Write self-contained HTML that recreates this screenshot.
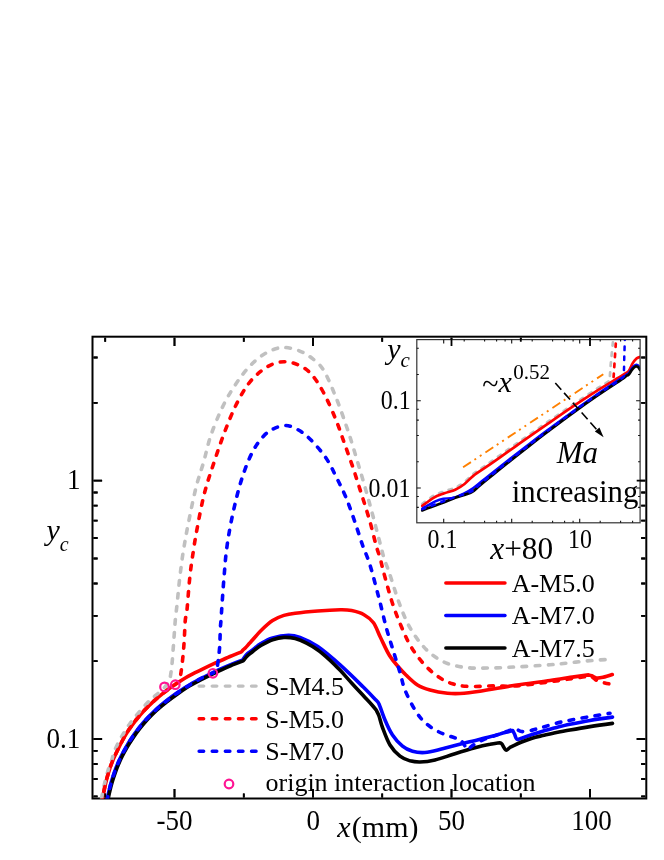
<!DOCTYPE html>
<html><head><meta charset="utf-8"><title>chart</title>
<style>html,body{margin:0;padding:0;background:#fff;}svg{will-change:transform;opacity:0.999;}body{width:664px;height:860px;overflow:hidden;font-family:"Liberation Serif",serif;}svg{display:block;}</style>
</head><body>
<svg width="664" height="860" viewBox="0 0 664 860" font-family="'Liberation Serif', serif" fill="#000">
<defs><clipPath id="cm"><rect x="92.5" y="336.7" width="553.8" height="461.8"/></clipPath><clipPath id="ci"><rect x="416.8" y="339.6" width="223.3" height="183.2"/></clipPath></defs>
<rect x="92.5" y="336.7" width="553.8" height="461.8" fill="none" stroke="#000" stroke-width="2"/>
<path d="M105.2 337.7v4.0M105.2 797.5v-4.0M174.5 337.7v8.4M174.5 797.5v-8.4M243.8 337.7v4.0M243.8 797.5v-4.0M313.0 337.7v8.4M313.0 797.5v-8.4M382.2 337.7v4.0M382.2 797.5v-4.0M451.5 337.7v8.4M451.5 797.5v-8.4M520.8 337.7v4.0M520.8 797.5v-4.0M590.0 337.7v8.4M590.0 797.5v-8.4M93.5 796.3h4.1M645.3 796.3h-4.1M93.5 779.0h4.1M645.3 779.0h-4.1M93.5 764.0h4.1M645.3 764.0h-4.1M93.5 750.8h4.1M645.3 750.8h-4.1M93.5 739.0h8.6M645.3 739.0h-8.6M93.5 661.2h4.1M645.3 661.2h-4.1M93.5 615.8h4.1M645.3 615.8h-4.1M93.5 583.5h4.1M645.3 583.5h-4.1M93.5 558.5h4.1M645.3 558.5h-4.1M93.5 538.0h4.1M645.3 538.0h-4.1M93.5 520.7h4.1M645.3 520.7h-4.1M93.5 505.7h4.1M645.3 505.7h-4.1M93.5 492.5h4.1M645.3 492.5h-4.1M93.5 480.7h8.6M645.3 480.7h-8.6M93.5 402.9h4.1M645.3 402.9h-4.1M93.5 357.5h4.1M645.3 357.5h-4.1" stroke="#000" stroke-width="1.8" fill="none"/>
<g clip-path="url(#cm)">
<path d="M102.2 801.0C102.2 800.6 102.3 799.8 102.5 798.8C102.7 797.8 102.8 796.9 103.2 794.9C103.6 792.9 104.3 789.3 104.9 786.5C105.5 783.7 106.1 781.3 106.9 778.2C107.8 775.1 108.9 771.0 110.0 767.8C111.1 764.6 112.1 762.1 113.4 759.1C114.7 756.1 116.3 752.8 117.9 749.5C119.5 746.2 121.2 742.8 123.0 739.5C124.8 736.2 126.8 732.9 129.0 729.6C131.2 726.4 133.5 723.1 136.0 720.0C138.5 716.9 141.2 713.7 144.0 710.7C146.8 707.7 149.8 704.7 153.0 701.8C156.2 698.9 159.3 696.3 163.0 693.4C166.7 690.5 170.8 687.4 175.0 684.6C179.2 681.8 183.5 678.9 188.0 676.4C192.5 673.9 197.3 671.7 202.0 669.4C206.7 667.1 211.3 664.9 216.0 662.7C220.7 660.6 225.8 658.3 230.0 656.5C234.2 654.7 239.5 652.6 241.4 651.8C241.8 651.4 242.8 650.3 243.5 649.6C244.2 648.9 244.4 648.9 245.5 647.8C246.6 646.7 248.4 644.5 250.0 642.8C251.6 641.0 253.0 639.4 254.9 637.3C256.8 635.2 258.4 633.1 261.3 630.3C264.2 627.5 268.8 623.1 272.6 620.6C276.4 618.1 280.1 616.6 283.9 615.4C287.7 614.2 289.5 613.9 295.2 613.2C300.9 612.5 310.3 611.6 317.8 611.0C325.3 610.4 334.8 609.9 340.4 609.8C346.0 609.7 347.7 609.8 351.6 610.6C355.5 611.4 360.4 612.7 364.0 614.7C367.6 616.7 370.8 619.0 373.5 622.8C376.2 626.6 377.8 632.0 380.5 637.5C383.2 643.0 386.5 650.6 389.5 655.5C392.5 660.4 395.6 663.5 398.3 666.8C401.1 670.0 402.8 672.0 406.0 675.0C409.2 678.0 413.5 682.5 417.5 685.0C421.5 687.5 425.0 688.6 430.0 690.0C435.0 691.4 442.5 692.7 447.5 693.2C452.5 693.8 454.6 693.8 460.0 693.5C465.4 693.2 470.8 692.6 480.0 691.2C489.2 689.9 503.3 687.1 515.0 685.3C526.7 683.5 540.1 681.9 550.0 680.5C559.9 679.1 567.7 677.8 574.1 676.9C580.5 676.0 586.2 675.2 588.6 674.9C589.1 675.0 590.3 675.2 591.6 675.7C592.9 676.2 594.5 677.7 596.4 678.0C598.3 678.3 600.4 677.9 603.0 677.3C605.6 676.7 610.8 675.0 612.3 674.5" stroke="#ff0000" stroke-width="3.6" fill="none" stroke-linejoin="round" stroke-linecap="round" />
<path d="M106.9 801.0C107.1 800.2 107.4 798.3 107.8 796.3C108.2 794.3 108.9 791.3 109.5 788.8C110.1 786.3 110.7 784.1 111.5 781.3C112.3 778.5 113.5 774.9 114.5 772.0C115.5 769.1 116.3 767.0 117.5 764.2C118.7 761.5 120.0 758.5 121.5 755.5C123.0 752.5 124.7 749.4 126.5 746.3C128.3 743.2 130.2 740.2 132.3 737.1C134.4 734.0 136.6 731.0 139.0 727.9C141.4 724.8 143.9 721.8 146.7 718.8C149.4 715.8 152.4 712.9 155.5 710.0C158.6 707.1 161.8 704.4 165.5 701.5C169.2 698.6 173.3 695.5 177.5 692.6C181.7 689.7 186.0 686.8 190.5 684.2C195.0 681.6 199.8 679.3 204.5 676.9C209.2 674.5 213.8 672.2 218.5 670.0C223.2 667.8 228.5 665.5 232.5 663.9C236.5 662.2 240.8 660.7 242.5 660.1C243.1 659.3 244.8 656.6 246.0 655.3C247.2 654.0 248.2 653.2 249.4 652.3C250.6 651.3 251.0 651.1 253.0 649.6C255.0 648.1 258.0 645.2 261.3 643.3C264.6 641.3 268.1 639.2 272.6 637.9C277.1 636.5 283.8 635.3 288.4 635.2C293.0 635.1 295.1 635.6 300.0 637.5C304.9 639.4 311.1 642.0 317.8 646.6C324.5 651.2 332.9 658.5 340.4 665.2C347.9 671.9 357.0 680.9 363.0 686.8C369.0 692.7 374.2 698.3 376.5 700.6C376.9 701.2 377.6 700.8 379.0 704.0C380.4 707.2 382.8 714.8 385.0 720.0C387.2 725.2 389.6 730.6 392.5 735.0C395.4 739.4 399.2 743.5 402.5 746.2C405.8 749.0 408.8 750.2 412.5 751.2C416.2 752.3 420.0 752.9 425.0 752.5C430.0 752.1 435.4 750.5 442.5 748.8C449.6 747.0 459.6 744.3 467.5 742.3C475.4 740.3 483.8 738.4 490.0 736.8C496.2 735.2 501.2 733.6 505.0 732.6C508.8 731.6 511.4 730.9 512.7 730.6C513.0 731.2 513.8 732.6 514.5 734.0C515.2 735.4 515.7 738.5 516.9 739.2C518.1 739.9 519.1 739.0 521.6 738.2C524.1 737.4 528.6 735.7 532.1 734.5C535.6 733.3 539.2 732.2 542.7 731.2C546.2 730.2 548.7 729.4 553.2 728.2C557.8 727.1 563.9 725.6 570.0 724.3C576.1 723.0 582.9 721.6 590.0 720.4C597.1 719.2 608.8 717.6 612.5 717.1" stroke="#0000ff" stroke-width="3.6" fill="none" stroke-linejoin="round" stroke-linecap="round" />
<path d="M107.6 801.8C107.8 801.0 108.1 799.1 108.5 797.1C108.9 795.1 109.6 792.1 110.2 789.6C110.8 787.1 111.4 784.9 112.2 782.1C113.0 779.3 114.2 775.6 115.2 772.8C116.2 769.9 117.0 767.8 118.2 765.0C119.4 762.2 120.7 759.3 122.2 756.3C123.7 753.3 125.4 750.2 127.2 747.1C129.0 744.0 130.9 741.0 133.0 737.9C135.1 734.8 137.3 731.8 139.7 728.7C142.1 725.7 144.7 722.6 147.4 719.6C150.2 716.6 153.1 713.7 156.2 710.8C159.3 707.9 162.5 705.2 166.2 702.3C169.9 699.4 174.0 696.3 178.2 693.4C182.4 690.5 186.7 687.6 191.2 685.0C195.7 682.4 200.5 680.1 205.2 677.7C209.9 675.3 214.5 673.0 219.2 670.8C223.9 668.6 229.2 666.4 233.2 664.7C237.2 663.1 241.5 661.5 243.2 660.9C243.8 660.2 245.6 657.8 246.7 656.6C247.8 655.4 248.9 654.5 250.0 653.6C251.1 652.7 251.2 652.6 253.1 651.2C255.0 649.8 258.1 647.2 261.3 645.3C264.6 643.4 268.8 641.0 272.6 639.7C276.4 638.4 280.1 637.6 283.9 637.4C287.7 637.2 291.4 637.6 295.2 638.6C299.0 639.6 302.7 641.2 306.5 643.1C310.3 645.0 314.1 647.3 317.8 650.0C321.6 652.7 325.2 655.9 329.0 659.3C332.8 662.7 336.6 666.6 340.4 670.6C344.2 674.6 347.8 678.9 351.6 683.0C355.4 687.1 359.6 691.6 363.0 695.3C366.4 699.0 369.8 702.5 372.0 705.0C374.2 707.5 375.8 709.6 376.5 710.5C376.9 711.8 378.0 713.2 379.0 716.0C380.0 718.8 380.7 722.7 382.5 727.5C384.3 732.3 387.1 740.2 390.0 745.0C392.9 749.8 396.7 753.6 400.0 756.2C403.3 758.9 406.7 759.8 410.0 760.8C413.3 761.7 415.8 762.1 420.0 762.0C424.2 761.9 429.2 761.4 435.0 760.0C440.8 758.6 448.3 755.8 455.0 753.8C461.7 751.7 469.2 749.4 475.0 747.8C480.8 746.2 485.8 745.1 490.0 744.3C494.2 743.4 498.3 743.0 500.0 742.7C500.3 743.0 501.0 743.0 502.0 744.2C503.0 745.4 504.6 749.3 505.8 750.0C507.0 750.7 508.1 748.8 509.0 748.3C509.9 747.8 508.9 747.9 511.0 746.9C513.1 745.9 518.1 743.5 521.6 742.0C525.1 740.5 528.6 739.3 532.1 738.2C535.6 737.1 539.2 736.4 542.7 735.6C546.2 734.8 548.7 734.1 553.2 733.2C557.8 732.3 563.9 731.1 570.0 730.0C576.1 728.9 582.9 727.7 590.0 726.6C597.1 725.5 608.8 723.9 612.5 723.4" stroke="#000" stroke-width="3.6" fill="none" stroke-linejoin="round" stroke-linecap="round" />
<path d="M101.2 801.0C101.2 800.6 101.3 799.8 101.5 798.8C101.7 797.8 101.8 796.9 102.2 794.9C102.6 792.9 103.3 789.3 103.9 786.5C104.5 783.7 105.1 781.2 105.9 778.2C106.7 775.2 107.7 771.4 108.6 768.5C109.5 765.6 110.6 763.7 111.5 761.0C112.4 758.3 112.9 755.2 114.1 752.1C115.2 749.0 116.8 745.6 118.4 742.4C120.1 739.2 122.1 735.8 124.0 732.7C125.9 729.6 127.6 726.9 129.7 724.0C131.8 721.1 134.2 718.1 136.5 715.3C138.8 712.5 141.0 709.8 143.2 707.4C145.4 705.0 147.5 702.6 149.6 700.6C151.7 698.6 153.5 697.4 156.0 695.2C158.5 693.0 163.0 688.9 164.4 687.6C165.1 686.7 167.6 683.6 168.5 682.0C169.4 680.4 169.5 680.7 170.1 677.9C170.7 675.1 171.4 669.6 171.9 665.0C172.4 660.4 172.7 655.0 173.1 650.0C173.5 645.0 173.8 640.0 174.2 635.0C174.6 630.0 174.8 625.8 175.3 620.0C175.9 614.2 176.8 607.1 177.5 600.0C178.2 592.9 178.8 585.8 179.8 577.5C180.8 569.2 182.0 559.2 183.5 550.0C185.0 540.8 186.4 532.9 188.5 522.5C190.6 512.1 193.5 497.5 196.0 487.5C198.5 477.5 201.0 471.2 203.5 462.5C206.0 453.8 207.7 444.6 211.0 435.0C214.3 425.4 219.3 413.5 223.5 405.0C227.7 396.5 231.8 390.0 236.0 383.8C240.2 377.5 244.3 372.1 248.5 367.5C252.7 362.9 256.8 359.2 261.0 356.2C265.2 353.2 269.5 351.0 273.5 349.5C277.5 348.0 280.6 347.3 284.8 347.5C288.9 347.7 294.1 348.8 298.5 350.5C302.9 352.2 306.8 354.2 311.0 357.5C315.2 360.8 319.3 363.3 323.5 370.0C327.7 376.7 332.2 388.3 336.0 397.5C339.8 406.7 343.2 417.1 346.0 425.0C348.8 432.9 350.2 437.5 352.5 445.0C354.8 452.5 357.5 461.7 360.0 470.0C362.5 478.3 364.9 486.7 367.2 495.0C369.6 503.3 371.8 511.7 374.0 520.0C376.2 528.3 378.8 538.5 380.5 545.0C382.2 551.5 382.8 554.2 384.2 558.8C385.6 563.3 386.7 565.2 389.2 572.5C391.7 579.8 395.8 593.8 399.0 602.5C402.2 611.2 405.0 618.3 408.5 625.0C412.0 631.7 416.0 637.5 420.0 642.5C424.0 647.5 427.9 651.5 432.5 655.0C437.1 658.5 441.7 661.4 447.5 663.5C453.3 665.6 460.4 667.0 467.5 667.7C474.6 668.5 482.1 668.1 490.0 668.0C497.9 667.9 505.0 667.5 515.0 667.0C525.0 666.5 541.4 665.4 550.0 664.8C558.6 664.1 561.9 663.6 566.9 663.1C571.9 662.6 575.7 662.1 580.1 661.6C584.5 661.1 589.0 660.8 593.4 660.4C597.8 660.0 603.8 659.7 606.6 659.5C609.5 659.3 609.9 659.2 610.5 659.2" stroke="#c0c0c0" stroke-width="3.6" fill="none" stroke-linejoin="round" stroke-linecap="round" stroke-dasharray="4.6 8.5" stroke-dashoffset="-2.3"/>
<path d="M102.2 801.0C102.2 800.6 102.3 799.8 102.5 798.8C102.7 797.8 102.8 796.9 103.2 794.9C103.6 792.9 104.3 789.3 104.9 786.5C105.5 783.7 106.1 781.3 106.9 778.2C107.8 775.1 108.9 771.0 110.0 767.8C111.1 764.6 112.1 762.1 113.4 759.1C114.7 756.1 116.3 752.8 117.9 749.5C119.5 746.2 121.2 742.8 123.0 739.5C124.8 736.2 126.8 732.9 129.0 729.6C131.2 726.4 133.5 723.1 136.0 720.0C138.5 716.9 141.2 713.7 144.0 710.7C146.8 707.7 149.8 704.7 153.0 701.8C156.2 698.9 159.3 696.3 163.0 693.4C166.7 690.5 173.0 686.1 175.0 684.6C175.7 684.0 178.1 683.0 179.1 681.0C180.1 679.0 180.3 677.1 181.0 672.6C181.7 668.1 182.6 660.1 183.2 653.8C183.8 647.5 184.2 640.6 184.5 635.0C184.8 629.4 184.9 624.2 185.3 620.0C185.7 615.8 186.3 617.1 187.0 610.0C187.7 602.9 188.7 587.5 189.8 577.5C190.8 567.5 192.2 558.8 193.5 550.0C194.8 541.2 196.0 534.2 197.8 525.0C199.5 515.8 201.7 504.2 204.0 495.0C206.3 485.8 208.2 480.0 211.5 470.0C214.8 460.0 219.4 445.8 223.5 435.0C227.6 424.2 231.8 413.5 236.0 405.0C240.2 396.5 244.3 389.4 248.5 383.8C252.7 378.1 256.8 374.6 261.0 371.2C265.2 367.9 269.3 365.3 273.5 363.8C277.7 362.2 281.8 361.5 286.0 361.8C290.2 362.0 294.3 363.0 298.5 365.0C302.7 367.0 306.8 369.2 311.0 373.8C315.2 378.3 319.3 384.8 323.5 392.5C327.7 400.2 332.4 411.2 336.0 420.0C339.6 428.8 342.0 436.7 345.0 445.0C348.0 453.3 351.0 461.7 353.8 470.0C356.5 478.3 359.1 486.7 361.8 495.0C364.4 503.3 367.1 511.7 369.5 520.0C371.9 528.3 374.2 538.5 376.0 545.0C377.8 551.5 379.0 554.2 380.3 558.8C381.6 563.3 381.7 565.2 383.7 572.5C385.7 579.8 389.4 593.8 392.2 602.5C395.1 611.2 397.7 617.9 400.7 625.0C403.7 632.1 406.4 638.8 410.0 645.0C413.6 651.2 417.9 657.3 422.5 662.5C427.1 667.7 432.5 672.7 437.5 676.2C442.5 679.8 447.1 682.0 452.5 683.8C457.9 685.5 462.8 686.2 470.0 686.5C477.2 686.8 488.5 685.9 496.0 685.8C503.5 685.7 506.0 686.7 515.0 686.0C524.0 685.3 540.2 683.1 550.0 681.8C559.8 680.5 567.3 679.2 574.0 678.3C580.7 677.4 586.2 676.1 590.0 676.5C593.8 676.9 594.5 679.4 597.0 680.5C599.5 681.6 602.3 682.4 604.8 683.0C607.3 683.6 610.8 684.2 612.0 684.4" stroke="#ff0000" stroke-width="3.6" fill="none" stroke-linejoin="round" stroke-linecap="round" stroke-dasharray="4.6 8.5" stroke-dashoffset="3.1"/>
<path d="M106.9 801.3C107.1 800.5 107.4 798.6 107.8 796.6C108.2 794.6 108.9 791.6 109.5 789.1C110.1 786.6 110.7 784.4 111.5 781.6C112.3 778.8 113.5 775.1 114.5 772.3C115.5 769.4 116.3 767.2 117.5 764.5C118.7 761.8 120.0 758.8 121.5 755.8C123.0 752.8 124.7 749.7 126.5 746.6C128.3 743.5 130.1 740.5 132.2 737.4C134.3 734.3 136.5 731.2 138.9 728.2C141.3 725.2 143.8 722.1 146.6 719.1C149.4 716.1 152.3 713.2 155.5 710.3C158.7 707.4 161.8 704.7 165.5 701.8C169.2 698.9 173.3 695.8 177.5 692.9C181.7 690.0 186.0 687.2 190.5 684.5C195.0 681.8 200.8 678.4 204.5 676.5C208.2 674.6 211.4 673.8 212.8 673.2C213.4 672.6 215.6 671.5 216.5 669.5C217.4 667.5 217.6 664.8 218.1 661.1C218.6 657.5 219.2 652.9 219.6 647.6C220.0 642.3 220.1 634.1 220.3 629.5C220.5 624.9 220.7 624.1 221.0 620.0C221.3 615.9 221.5 612.1 222.0 605.0C222.5 597.9 223.2 586.7 224.0 577.5C224.8 568.3 225.3 559.2 226.5 550.0C227.7 540.8 229.2 531.7 231.0 522.5C232.8 513.3 235.0 503.8 237.2 495.0C239.5 486.2 242.0 477.5 244.8 470.0C247.5 462.5 250.4 455.6 253.5 450.0C256.6 444.4 260.2 439.8 263.5 436.2C266.8 432.7 269.8 430.5 273.5 428.8C277.2 427.0 281.8 425.3 286.0 425.5C290.2 425.7 294.3 427.6 298.5 430.0C302.7 432.4 306.4 435.3 311.0 440.0C315.6 444.7 321.8 451.8 326.0 458.0C330.2 464.2 333.2 470.9 336.5 477.5C339.8 484.1 343.0 490.4 346.0 497.5C349.0 504.6 351.5 512.1 354.2 520.0C357.0 527.9 359.9 537.5 362.5 545.0C365.1 552.5 367.3 556.2 370.0 565.0C372.7 573.8 376.0 587.1 378.8 597.5C381.5 607.9 383.8 618.3 386.2 627.5C388.8 636.7 391.5 645.0 393.8 652.5C396.0 660.0 398.1 666.2 400.0 672.5C401.9 678.8 402.5 683.8 405.0 690.0C407.5 696.2 411.7 704.6 415.0 710.0C418.3 715.4 421.2 719.0 425.0 722.5C428.8 726.0 433.3 729.0 437.5 731.2C441.7 733.5 446.8 735.0 450.0 736.2C453.2 737.5 455.2 737.8 457.0 738.5C458.8 739.2 460.3 739.9 461.0 740.2C461.5 740.9 462.9 742.9 464.0 744.5C465.1 746.1 466.2 749.3 467.3 749.8C468.4 750.3 469.3 748.2 470.5 747.3C471.7 746.4 472.2 745.7 474.4 744.4C476.6 743.1 480.1 741.1 483.6 739.6C487.1 738.1 491.5 736.9 495.2 735.6C498.9 734.3 503.0 732.8 505.8 731.8C508.6 730.8 510.2 730.1 512.1 729.7C514.0 729.3 516.2 729.4 517.0 729.3C517.8 729.7 519.5 731.2 521.6 731.5C523.7 731.8 527.2 731.2 529.5 730.8C531.8 730.4 533.1 729.9 535.3 729.3C537.5 728.7 539.7 728.2 542.7 727.3C545.7 726.4 549.5 725.1 553.2 724.1C556.9 723.1 558.9 722.5 565.0 721.2C571.1 720.0 582.5 717.9 590.0 716.6C597.5 715.3 606.7 713.8 610.0 713.3" stroke="#0000ff" stroke-width="3.6" fill="none" stroke-linejoin="round" stroke-linecap="round" stroke-dasharray="4.6 8.5"/>
</g>
<circle cx="164.5" cy="686.9" r="4.3" fill="none" stroke="#ff1493" stroke-width="2.2"/>
<circle cx="175.3" cy="684.7" r="4.3" fill="none" stroke="#ff1493" stroke-width="2.2"/>
<circle cx="212.9" cy="673.3" r="4.3" fill="none" stroke="#ff1493" stroke-width="2.2"/>
<circle cx="229.0" cy="784.0" r="4.3" fill="none" stroke="#ff1493" stroke-width="2.2"/>
<rect x="416.8" y="339.6" width="223.3" height="183.2" fill="#fff" stroke="none"/>
<g clip-path="url(#ci)">
<path d="M422.3 503.9C424.2 502.5 429.8 497.9 433.5 495.8C437.2 493.7 440.7 492.7 444.3 491.3C447.9 489.9 451.9 489.2 455.2 487.7C458.5 486.2 461.2 484.5 464.2 482.2C467.2 479.9 469.7 476.8 473.3 474.0C476.9 471.2 481.4 468.4 485.9 465.2C490.4 462.0 495.6 458.4 500.4 455.0C505.2 451.6 510.1 448.2 514.9 444.8C519.7 441.4 523.8 438.6 529.3 434.7C534.8 430.8 540.7 426.7 548.0 421.7C555.3 416.7 564.7 410.2 573.0 404.6C581.3 399.0 592.0 391.9 598.0 388.0C604.0 384.1 607.0 382.7 609.0 380.9C611.0 379.1 609.5 380.6 609.8 377.4C610.1 374.1 610.4 367.7 611.0 361.4C611.6 355.1 612.8 343.1 613.2 339.4" stroke="#c0c0c0" stroke-width="2.7" fill="none" stroke-linejoin="round" stroke-linecap="round" stroke-dasharray="3.4 6.6"/>
<path d="M422.3 505.9C424.2 504.5 429.8 499.9 433.5 497.8C437.2 495.7 440.7 494.7 444.3 493.3C447.9 491.9 451.9 491.2 455.2 489.7C458.5 488.2 461.2 486.5 464.2 484.2C467.2 481.9 469.7 478.7 473.3 475.9C476.9 473.1 481.4 470.3 485.9 467.2C490.4 464.1 495.6 460.5 500.4 457.1C505.2 453.7 510.1 450.2 514.9 446.8C519.7 443.4 523.8 440.6 529.3 436.7C534.8 432.8 540.7 428.7 548.0 423.6C555.3 418.6 564.7 412.0 573.0 406.4C581.3 400.8 589.7 395.4 598.0 390.1C606.3 384.9 617.9 378.1 623.0 374.9C628.1 371.7 627.1 372.9 628.7 371.0C630.3 369.1 631.3 365.5 632.6 363.4C633.9 361.3 635.3 359.6 636.5 358.5C637.7 357.4 639.4 357.2 640.0 357.0" stroke="#ff0000" stroke-width="2.7" fill="none" stroke-linejoin="round" stroke-linecap="round" />
<path d="M422.3 508.6C424.5 507.4 431.8 503.0 435.3 501.4C438.8 499.8 440.4 499.3 443.4 498.7C446.4 498.1 449.9 498.7 453.4 497.8C456.9 496.9 460.9 495.0 464.2 493.3C467.5 491.6 470.3 490.0 473.3 487.9C476.3 485.8 479.0 483.3 482.3 480.7C485.6 478.1 488.9 475.4 493.1 472.1C497.3 468.8 501.6 465.4 507.6 460.7C513.6 456.0 522.6 449.0 529.3 443.9C536.0 438.8 540.7 435.2 548.0 429.8C555.3 424.4 564.7 417.4 573.0 411.4C581.3 405.4 589.7 399.5 598.0 393.8C606.3 388.1 618.2 380.3 623.0 377.1C627.8 373.9 625.5 375.3 626.5 374.6C627.5 373.9 628.1 373.9 629.0 372.8C629.9 371.7 631.1 369.3 632.1 368.0C633.1 366.7 634.3 365.5 635.3 365.0C636.3 364.5 637.1 364.7 637.9 365.2C638.7 365.7 639.6 367.5 640.0 368.0" stroke="#0000ff" stroke-width="2.4" fill="none" stroke-linejoin="round" stroke-linecap="round" />
<path d="M422.3 510.4C426.0 509.0 438.8 504.4 444.3 502.3C449.8 500.2 450.7 499.5 455.2 497.8C459.7 496.1 467.6 494.1 471.5 492.2C475.4 490.3 475.7 488.8 478.7 486.4C481.7 483.9 486.0 480.4 489.6 477.5C493.2 474.6 496.2 472.2 500.4 468.8C504.6 465.4 510.1 461.0 514.9 457.2C519.7 453.4 523.8 450.2 529.3 445.9C534.8 441.6 540.7 437.0 548.0 431.5C555.3 426.0 564.7 418.9 573.0 412.9C581.3 406.8 589.7 400.9 598.0 395.2C606.3 389.5 618.2 381.8 623.0 378.6C627.8 375.4 625.5 376.7 626.5 376.0C627.5 375.3 628.1 375.4 629.0 374.3C629.9 373.2 631.1 370.9 632.1 369.6C633.1 368.3 634.3 367.1 635.3 366.6C636.3 366.2 637.1 366.4 637.9 366.9C638.7 367.4 639.6 369.3 640.0 369.8" stroke="#000" stroke-width="2.7" fill="none" stroke-linejoin="round" stroke-linecap="round" />
<path d="M613.6 377.0C613.8 374.5 614.2 368.2 614.6 362.0C615.0 355.8 615.8 343.7 616.0 340.0" stroke="#ff0000" stroke-width="2.7" fill="none" stroke-linejoin="round" stroke-linecap="round" stroke-dasharray="3.4 6.6"/>
<path d="M422.3 509.2C426.0 507.8 438.8 503.0 444.3 501.0C449.8 499.0 450.7 498.6 455.2 497.0C459.7 495.4 467.6 493.3 471.5 491.4C475.4 489.5 475.7 487.9 478.7 485.4C481.7 482.9 486.0 479.4 489.6 476.5C493.2 473.6 496.2 471.2 500.4 467.8C504.6 464.4 510.1 460.0 514.9 456.2C519.7 452.4 523.8 449.2 529.3 444.9C534.8 440.6 540.7 436.0 548.0 430.5C555.3 425.0 564.7 417.9 573.0 411.9C581.3 405.8 589.8 399.8 598.0 394.2C606.2 388.6 617.7 381.9 622.0 378.2C626.3 374.5 623.4 375.7 623.8 372.0C624.2 368.3 624.1 361.3 624.3 356.0C624.5 350.7 624.7 342.7 624.8 340.0" stroke="#0000ff" stroke-width="2.5" fill="none" stroke-linejoin="round" stroke-linecap="round" stroke-dasharray="3.4 6.6"/>
</g>
<path d="M463.1 467.3L603.3 374.2" stroke="#ff8000" stroke-width="1.9" stroke-dasharray="9.4 4.2 2 4.5 2 4.7" fill="none"/>
<path d="M555.3 383L598 431" stroke="#000" stroke-width="1.6" stroke-dasharray="9 4.2" fill="none"/>
<path d="M603.6 437.2L594.9 431.6L599.4 427.6Z" fill="#000"/>
<rect x="416.8" y="339.6" width="223.3" height="183.2" fill="none" stroke="#333" stroke-width="1.2"/>
<path d="M443.7 522.8v-4.0M443.7 339.6v4.0M464.2 522.8v-2.0M464.2 339.6v2.0M484.6 522.8v-2.0M484.6 339.6v2.0M496.6 522.8v-2.0M496.6 339.6v2.0M505.1 522.8v-2.0M505.1 339.6v2.0M511.7 522.8v-4.0M511.7 339.6v4.0M532.2 522.8v-2.0M532.2 339.6v2.0M552.6 522.8v-2.0M552.6 339.6v2.0M564.6 522.8v-2.0M564.6 339.6v2.0M573.1 522.8v-2.0M573.1 339.6v2.0M579.7 522.8v-4.0M579.7 339.6v4.0M600.2 522.8v-2.0M600.2 339.6v2.0M620.6 522.8v-2.0M620.6 339.6v2.0M632.6 522.8v-2.0M632.6 339.6v2.0M416.8 507.4h2.0M640.1 507.4h-2.0M416.8 496.5h2.0M640.1 496.5h-2.0M416.8 488.0h4.0M640.1 488.0h-4.0M416.8 461.7h2.0M640.1 461.7h-2.0M416.8 435.5h2.0M640.1 435.5h-2.0M416.8 420.1h2.0M640.1 420.1h-2.0M416.8 409.2h2.0M640.1 409.2h-2.0M416.8 400.8h4.0M640.1 400.8h-4.0M416.8 374.5h2.0M640.1 374.5h-2.0M416.8 348.2h2.0M640.1 348.2h-2.0" stroke="#111" stroke-width="1.1" fill="none"/>
<path d="M105.2 337.7v4.0M105.2 797.5v-4.0M174.5 337.7v8.4M174.5 797.5v-8.4M243.8 337.7v4.0M243.8 797.5v-4.0M313.0 337.7v8.4M313.0 797.5v-8.4M382.2 337.7v4.0M382.2 797.5v-4.0M451.5 337.7v8.4M451.5 797.5v-8.4M520.8 337.7v4.0M520.8 797.5v-4.0M590.0 337.7v8.4M590.0 797.5v-8.4M93.5 796.3h4.1M645.3 796.3h-4.1M93.5 779.0h4.1M645.3 779.0h-4.1M93.5 764.0h4.1M645.3 764.0h-4.1M93.5 750.8h4.1M645.3 750.8h-4.1M93.5 739.0h8.6M645.3 739.0h-8.6M93.5 661.2h4.1M645.3 661.2h-4.1M93.5 615.8h4.1M645.3 615.8h-4.1M93.5 583.5h4.1M645.3 583.5h-4.1M93.5 558.5h4.1M645.3 558.5h-4.1M93.5 538.0h4.1M645.3 538.0h-4.1M93.5 520.7h4.1M645.3 520.7h-4.1M93.5 505.7h4.1M645.3 505.7h-4.1M93.5 492.5h4.1M645.3 492.5h-4.1M93.5 480.7h8.6M645.3 480.7h-8.6M93.5 402.9h4.1M645.3 402.9h-4.1M93.5 357.5h4.1M645.3 357.5h-4.1" stroke="#000" stroke-width="1.8" fill="none"/>
<path d="M445.8 583.0H505" stroke="#ff0000" stroke-width="3.4" stroke-linecap="round"/>
<path d="M445.8 615.5H505" stroke="#0000ff" stroke-width="3.4" stroke-linecap="round"/>
<path d="M445.8 648.0H505" stroke="#000" stroke-width="3.4" stroke-linecap="round"/>
<path d="M199.1 686.1H257" stroke="#c0c0c0" stroke-width="3.4" stroke-dasharray="4.6 8.5" stroke-linecap="round"/>
<path d="M199.1 718.8H257" stroke="#ff0000" stroke-width="3.4" stroke-dasharray="4.6 8.5" stroke-linecap="round"/>
<path d="M199.1 751.3H257" stroke="#0000ff" stroke-width="3.4" stroke-dasharray="4.6 8.5" stroke-linecap="round"/>
<text x="511.7" y="591.5" font-size="26" text-anchor="start" >A-M5.0</text>
<text x="511.7" y="624.0" font-size="26" text-anchor="start" >A-M7.0</text>
<text x="511.7" y="656.6" font-size="26" text-anchor="start" >A-M7.5</text>
<text x="265.3" y="694.8" font-size="26" text-anchor="start" >S-M4.5</text>
<text x="265.3" y="727.5" font-size="26" text-anchor="start" >S-M5.0</text>
<text x="265.3" y="760.1" font-size="26" text-anchor="start" >S-M7.0</text>
<text x="265.5" y="791.4" font-size="26" text-anchor="start" >origin interaction location</text>
<text transform="translate(174.5 829.7) scale(0.91 1)" font-size="29.7" text-anchor="middle" >-50</text>
<text transform="translate(313.2 829.7) scale(0.91 1)" font-size="29.7" text-anchor="middle" >0</text>
<text transform="translate(451.5 829.7) scale(0.91 1)" font-size="29.7" text-anchor="middle" >50</text>
<text transform="translate(591.5 829.7) scale(0.91 1)" font-size="29.7" text-anchor="middle" >100</text>
<text transform="translate(80.5 489.2) scale(0.91 1)" font-size="29.7" text-anchor="end" >1</text>
<text transform="translate(80.3 747.8) scale(0.91 1)" font-size="29.7" text-anchor="end" >0.1</text>
<text x="337.3" y="837" font-size="30"><tspan font-style="italic">x</tspan><tspan dx="1.2">(mm)</tspan></text>
<text x="46.5" y="539.7" font-size="30" font-style="italic">y<tspan font-size="20" dy="11">c</tspan></text>
<text transform="translate(410.6 408.9) scale(0.885 1)" font-size="27" text-anchor="end" >0.1</text>
<text transform="translate(410.4 496.7) scale(0.885 1)" font-size="27" text-anchor="end" >0.01</text>
<text transform="translate(442.5 548.0) scale(0.885 1)" font-size="27" text-anchor="middle" >0.1</text>
<text transform="translate(580.0 548.0) scale(0.885 1)" font-size="27" text-anchor="middle" >10</text>
<text x="387.2" y="359.3" font-size="30" font-style="italic">y<tspan font-size="21" dy="8">c</tspan></text>
<text x="490.3" y="558.6" font-size="31.3"><tspan font-style="italic">x</tspan>+80</text>
<text x="482.3" y="394" font-size="30">~<tspan font-style="italic" dy="-2">x</tspan><tspan font-size="21" dy="-13.5" dx="1.3">0.52</tspan></text>
<text x="556.8" y="463.0" font-size="31" text-anchor="start" font-style="italic" >Ma</text>
<text transform="translate(511.8 501.9) scale(0.945 1)" font-size="32.6" text-anchor="start" >increasing</text>
</svg>
</body></html>
